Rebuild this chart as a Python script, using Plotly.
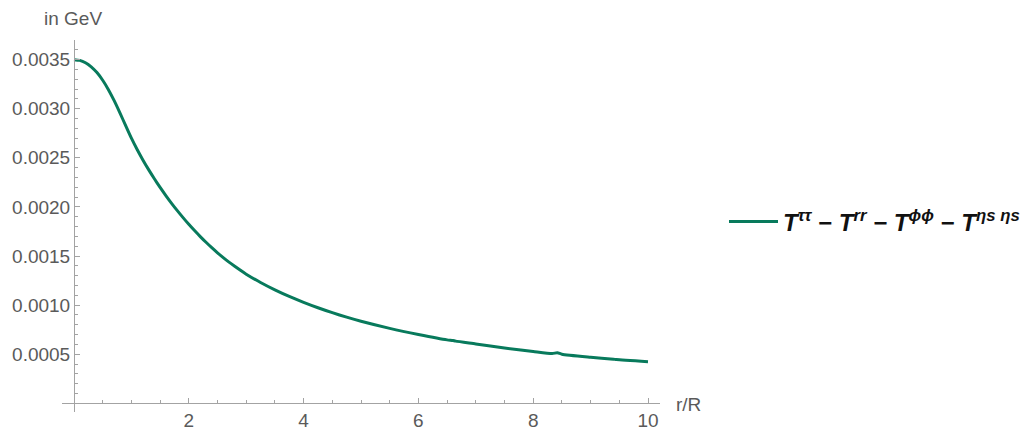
import plotly.graph_objects as go

# radial coordinate r/R
r_over_R = [0.0, 0.1, 0.2, 0.3, 0.4, 0.5, 0.6, 0.7, 0.8, 0.9,
            1.0, 1.1, 1.2, 1.3, 1.4, 1.5, 1.6, 1.7, 1.8, 1.9,
            2.0, 2.1, 2.2, 2.3, 2.4, 2.5, 2.6, 2.7, 2.8, 2.9,
            3.0, 3.25, 3.5, 3.75, 4.0, 4.25, 4.5, 4.75, 5.0, 5.5,
            6.0, 6.5, 6.6, 6.65, 7.0, 7.5, 8.0, 8.33, 8.42, 8.5,
            9.0, 9.4, 9.45, 10.0]

# T^tautau - T^rr - T^phiphi - T^etas etas, in GeV
trace_value = [0.003500, 0.003492, 0.003468, 0.003427, 0.003368, 0.003290, 0.003194, 0.003082, 0.002958, 0.002828,
               0.002700, 0.002585, 0.002479, 0.002380, 0.002287, 0.002199, 0.002116, 0.002037, 0.001962, 0.001891,
               0.001823, 0.001759, 0.001698, 0.001640, 0.001585, 0.001533, 0.001484, 0.001438, 0.001395, 0.001354,
               0.001315, 0.001230, 0.001155, 0.001088, 0.001028, 0.000973, 0.000923, 0.000877, 0.000835, 0.000763,
               0.000701, 0.000646, 0.000640, 0.000633, 0.000605, 0.000563, 0.000527, 0.000506, 0.000515, 0.000500,
               0.000469, 0.000449, 0.000445, 0.000424]

x_ticks = [2, 4, 6, 8, 10]
y_ticks = [0.0005, 0.0010, 0.0015, 0.0020, 0.0025, 0.0030, 0.0035]

series_name = ("<i>T</i><sup>ττ</sup> − <i>T</i><sup>rr</sup> − "
               "<i>T</i><sup>ϕϕ</sup> − <i>T</i><sup>ηs ηs</sup>")

LINE = "#087a5c"
AXIS = "#a3a3a3"
LABEL = "#5a5a5a"
FONT = "Liberation Sans, Arial, Helvetica, sans-serif"

W, H = 1027, 429
L, R, T, B = 62, 367, 40, 17
x_range = [-0.209, 10.209]
y_range = [-0.0000886, 0.0037]

fig = go.Figure()
fig.add_trace(go.Scatter(
    x=r_over_R, y=trace_value, mode="lines", name=series_name,
    line=dict(color=LINE, width=3, shape="spline", smoothing=0.6), showlegend=True,
))

# axes cross at the origin, slightly inside the plotted range
x_pos = (0 - y_range[0]) / (y_range[1] - y_range[0])
y_pos = (0 - x_range[0]) / (x_range[1] - x_range[0])

fig.update_layout(
    width=W, height=H,
    margin=dict(l=L, r=R, t=T, b=B, autoexpand=False),
    paper_bgcolor="white", plot_bgcolor="white",
    font=dict(family=FONT, size=19, color=LABEL),
    xaxis=dict(
        range=x_range, anchor="free", position=x_pos, automargin=False,
        showgrid=False, zeroline=False,
        showline=True, linecolor=AXIS, linewidth=1,
        tickmode="array", tickvals=x_ticks, ticktext=[str(v) for v in x_ticks],
        ticks="inside", ticklen=5, tickcolor=AXIS, tickwidth=1,
        tickfont=dict(size=19, color=LABEL), ticklabelstandoff=0,
        minor=dict(tick0=0, dtick=0.5, ticks="inside", ticklen=3, tickcolor=AXIS),
    ),
    yaxis=dict(
        range=y_range, anchor="free", position=y_pos, automargin=False,
        showgrid=False, zeroline=False,
        showline=True, linecolor=AXIS, linewidth=1,
        tickmode="array", tickvals=y_ticks, ticktext=[f"{v:.4f}" for v in y_ticks],
        ticks="inside", ticklen=5, tickcolor=AXIS, tickwidth=1,
        tickfont=dict(size=19, color=LABEL),
        minor=dict(tick0=0, dtick=0.0001, ticks="inside", ticklen=3, tickcolor=AXIS),
    ),
    legend=dict(
        xref="container", yref="container",
        x=724 / W, y=1 - 222 / H, xanchor="left", yanchor="middle",
        itemwidth=49,
        font=dict(family=FONT, size=24, color="#111111", style="italic", weight="bold"),
        bgcolor="rgba(0,0,0,0)",
    ),
)

def px_x(px):
    return (px - L) / (W - L - R)

def px_y(py):
    return (H - B - py) / (H - T - B)

fig.add_annotation(text="in GeV", xref="paper", yref="paper",
                   x=px_x(72.5), y=px_y(18.5), xanchor="center", yanchor="middle",
                   showarrow=False, font=dict(family=FONT, size=19, color=LABEL))
fig.add_annotation(text="r/R", xref="paper", yref="paper",
                   x=px_x(674), y=px_y(404), xanchor="left", yanchor="middle",
                   showarrow=False, font=dict(family=FONT, size=19, color=LABEL))

fig.write_html("out.html", config={"displayModeBar": False})
